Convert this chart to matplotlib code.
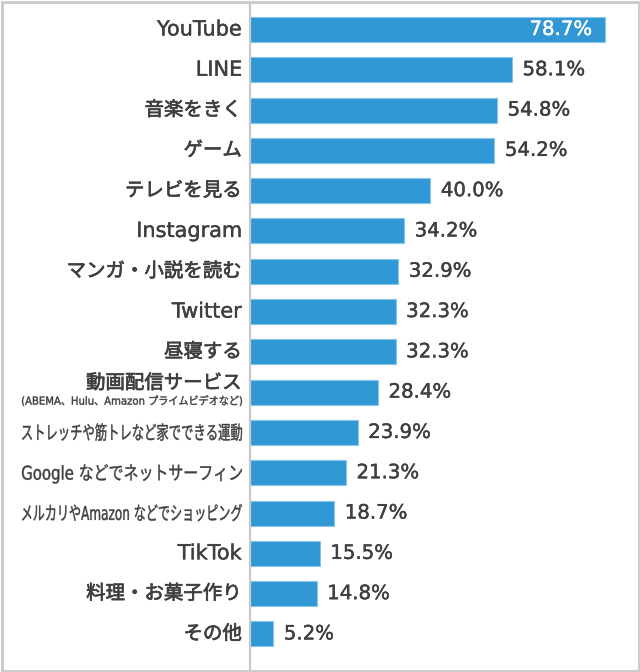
import matplotlib.pyplot as plt
import matplotlib.patheffects as pe
from matplotlib.patches import Rectangle, PathPatch
from matplotlib.textpath import TextPath
from matplotlib.font_manager import FontProperties
from matplotlib.transforms import Affine2D

families = ['DejaVu Sans', 'Noto Sans CJK JP']
plt.rcParams['font.family'] = families

labels = ['YouTube', 'LINE', '音楽をきく', 'ゲーム', 'テレビを見る', 'Instagram',
          'マンガ・小説を読む', 'Twitter', '昼寝する', '動画配信サービス',
          'ストレッチや筋トレなど家でできる運動', 'Google などでネットサーフィン',
          'メルカリやAmazon などでショッピング', 'TikTok', '料理・お菓子作り', 'その他']
values = [78.7, 58.1, 54.8, 54.2, 40.0, 34.2, 32.9, 32.3, 32.3, 28.4,
          23.9, 21.3, 18.7, 15.5, 14.8, 5.2]
sub_label = '(ABEMA、Hulu、Amazon プライムビデオなど)'
# labels squeezed horizontally to fit the left margin
squeezed = {10, 11, 12}

bar_color = '#3298d5'
text_color = '#3f3f3f'

fig = plt.figure(figsize=(6.4, 6.72), dpi=100)
fig.patches.append(Rectangle((1.5 / 640, 1.5 / 672), 637 / 640, 669 / 672,
                             transform=fig.transFigure, fill=False,
                             edgecolor='#cccccc', linewidth=2.2))
ax = fig.add_axes([250 / 640, 3 / 672, 387 / 640, 666 / 672])

y = list(range(len(values)))
ax.barh(y, values, height=0.62, color=bar_color, edgecolor='#86c4ec', linewidth=0.8)
ax.set_xlim(0, 85.8)
ax.set_ylim(15.87, -0.657)
ax.set_xticks([])
ax.set_yticks([])
for s in ['top', 'right', 'bottom']:
    ax.spines[s].set_visible(False)
ax.spines['left'].set_color('#c8c8c8')
ax.spines['left'].set_linewidth(1.6)

fp = FontProperties(family=families, weight='normal')


def squeeze_text(text, x_right, yc, size_px, width_px):
    tp = TextPath((0, 0), text, size=size_px, prop=fp)
    bb = tp.get_extents()
    sx = width_px / bb.width
    tr = (Affine2D().translate(-bb.x1, -0.36 * size_px)
          .scale(sx, 1).translate(x_right, yc))
    fig.add_artist(PathPatch(tp, transform=tr, fc=text_color, ec=text_color, lw=0.3))


def thick(c, w=0.3):
    return [pe.withStroke(linewidth=w, foreground=c)]


x_right = 242
lx = -8 / 387
for i, (lab, v) in enumerate(zip(labels, values)):
    yc = ax.transData.transform((0, i))[1]
    if i == 9:
        ax.annotate(lab, (lx, i), xycoords=ax.get_yaxis_transform(),
                    xytext=(0, 6.5), textcoords='offset points',
                    ha='right', va='center', fontsize=14, color=text_color,
                    path_effects=thick(text_color, 0.5))
        squeeze_text(sub_label, x_right, yc - 8.5, 11, 220)
    elif i in squeezed:
        squeeze_text(lab, x_right, yc, 19, 220)
    elif lab.isascii():
        ax.text(lx, i, lab, transform=ax.get_yaxis_transform(), ha='right',
                va='center', fontsize=15, color=text_color,
                path_effects=thick(text_color))
    else:
        ax.text(lx, i, lab, transform=ax.get_yaxis_transform(), ha='right',
                va='center', fontsize=14, color=text_color,
                path_effects=thick(text_color, 0.5))
    if i == 0:
        ax.annotate(f'{v:.1f}%', (v, i), xytext=(-9, 0), textcoords='offset points',
                    ha='right', va='center', fontsize=14.2, color='white',
                    path_effects=thick('white'))
    else:
        ax.annotate(f'{v:.1f}%', (v, i), xytext=(7.5, 0), textcoords='offset points',
                    ha='left', va='center', fontsize=14.2, color=text_color,
                    path_effects=thick(text_color))

fig.savefig('out.png', dpi=100)
